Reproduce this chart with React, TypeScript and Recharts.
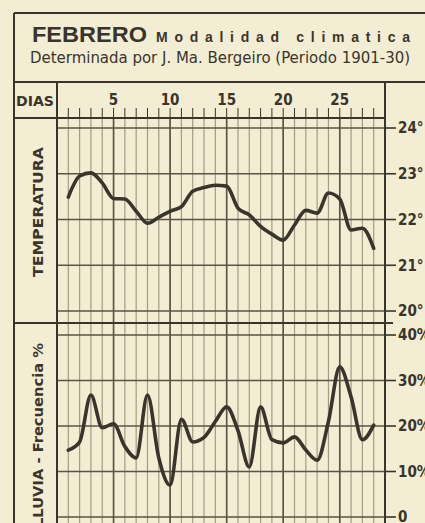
import React from 'react';
import { LineChart, Line, XAxis, YAxis, CartesianGrid, ReferenceLine } from 'recharts';

const days = [1, 2, 3, 4, 5, 6, 7, 8, 9, 10, 11, 12, 13, 14, 15, 16, 17, 18, 19, 20, 21, 22, 23, 24, 25, 26, 27, 28];
const temperatura = [22.49, 22.95, 23.02, 22.8, 22.46, 22.45, 22.18, 21.92, 22.05, 22.18, 22.28, 22.62, 22.7, 22.75, 22.73, 22.25, 22.1, 21.85, 21.68, 21.55, 21.88, 22.2, 22.14, 22.58, 22.45, 21.77, 21.81, 21.37];
const lluvia = [14.7, 16.5, 26.8, 19.6, 20.5, 15.5, 13, 26.8, 13, 7, 21.5, 16.5, 17.5, 21, 24.2, 19, 11, 24.2, 17, 16.3, 17.6, 14.7, 12.5, 21, 33, 26.4, 17, 20.2];
const tempTicks = [20, 21, 22, 23, 24];
const lluviaTicks = [0, 10, 20, 30, 40];
const majorDays = [5, 10, 15, 20, 25];

const tempData = days.map((d, i) => ({ dia: d, t: temperatura[i] }));
const lluviaData = days.map((d, i) => ({ dia: d, p: lluvia[i] }));

const bg = '#f3edd4';
const ink = '#39352c';
const minor = '#a39c84';
const major = '#5a5446';
const narrow = "'Liberation Sans Narrow', 'DejaVu Sans Condensed', sans-serif";
const tickStyle = { fill: ink, fontSize: 15, fontWeight: 700, fontFamily: narrow };

export default function App() {
  return (
    <div style={{ position: 'absolute', left: 0, top: 0, width: 425, height: 523, overflow: 'hidden', background: bg }}>
      <div style={{ position: 'absolute', left: 0, top: 83 }}>
        <LineChart width={425} height={240} data={tempData} margin={{ top: 0, right: 0, bottom: 0, left: 57 }}>
          <CartesianGrid stroke={minor} strokeWidth={1.2} horizontal={false} />
          <XAxis dataKey="dia" type="number" domain={[0, 29]} ticks={days} interval={0} orientation="top" height={35}
            tickSize={10} tickMargin={3} tickFormatter={(v) => (v % 5 === 0 ? String(v) : '')}
            axisLine={{ stroke: ink, strokeWidth: 2 }} tickLine={{ stroke: ink, strokeWidth: 1 }} tick={tickStyle} allowDataOverflow />
          <YAxis orientation="right" width={40} type="number" domain={[19.738, 24.219]} ticks={tempTicks} interval={0}
            tickFormatter={(v) => v + '°'} tickSize={11} tickMargin={2} allowDataOverflow
            axisLine={{ stroke: ink, strokeWidth: 2 }} tickLine={{ stroke: ink, strokeWidth: 1.6 }} tick={{ ...tickStyle, textAnchor: 'start' }} />
          {majorDays.map((d) => (
            <ReferenceLine key={'mx' + d} x={d} stroke={major} strokeWidth={1.6} />
          ))}
          {tempTicks.map((t) => (
            <ReferenceLine key={'ty' + t} y={t} stroke={major} strokeWidth={1.6} />
          ))}
          <Line dataKey="t" type="monotone" stroke={ink} strokeWidth={3.6} dot={false} isAnimationActive={false} strokeLinejoin="round" strokeLinecap="round" />
        </LineChart>
      </div>
      <div style={{ position: 'absolute', left: 0, top: 323 }}>
        <LineChart width={425} height={200} data={lluviaData} margin={{ top: 0, right: 0, bottom: 0, left: 57 }}>
          <CartesianGrid stroke={minor} strokeWidth={1.2} horizontal={false} />
          <XAxis dataKey="dia" type="number" domain={[0, 29]} ticks={days} interval={0} hide allowDataOverflow />
          <YAxis orientation="right" width={40} type="number" domain={[-1.32, 42.64]} ticks={lluviaTicks} interval={0}
            tickFormatter={(v) => (v === 0 ? '0' : v + '%')} tickSize={11} tickMargin={2} allowDataOverflow
            axisLine={{ stroke: ink, strokeWidth: 2 }} tickLine={{ stroke: ink, strokeWidth: 1.6 }} tick={{ ...tickStyle, textAnchor: 'start' }} />
          {majorDays.map((d) => (
            <ReferenceLine key={'mx' + d} x={d} stroke={major} strokeWidth={1.6} />
          ))}
          {lluviaTicks.map((t) => (
            <ReferenceLine key={'py' + t} y={t} stroke={major} strokeWidth={1.6} />
          ))}
          <Line dataKey="p" type="monotone" stroke={ink} strokeWidth={3.6} dot={false} isAnimationActive={false} strokeLinejoin="round" strokeLinecap="round" />
        </LineChart>
      </div>
      <svg width={425} height={523} style={{ position: 'absolute', left: 0, top: 0, pointerEvents: 'none' }}>
        <line x1={14} y1={13} x2={425} y2={13} stroke={ink} strokeWidth={2} />
        <line x1={14} y1={13} x2={14} y2={523} stroke={ink} strokeWidth={2} />
        <text x={32} y={42} fontSize={22} fontWeight={700} fontFamily="'Liberation Sans', Arial, sans-serif" fill={ink} textLength={115} lengthAdjust="spacingAndGlyphs">FEBRERO</text>
        <text x={156} y={42} fontSize={14} fontWeight={700} fontFamily="'Liberation Sans', Arial, sans-serif" fill={ink} textLength={254} lengthAdjust="spacing">Modalidad climatica</text>
        <text x={30} y={63} fontSize={15} fontFamily={narrow} fill={ink} textLength={380} lengthAdjust="spacingAndGlyphs">Determinada por J. Ma. Bergeiro (Periodo 1901-30)</text>
        <line x1={14} y1={82} x2={425} y2={82} stroke={ink} strokeWidth={2} />
        <line x1={57} y1={82} x2={57} y2={523} stroke={ink} strokeWidth={2} />
        <line x1={385} y1={82} x2={385} y2={523} stroke={ink} strokeWidth={2} />
        <line x1={14} y1={118} x2={57} y2={118} stroke={ink} strokeWidth={2} />
        <line x1={14} y1={323} x2={393} y2={323} stroke={ink} strokeWidth={2} />
        <text x={16} y={106} fontSize={14} fontWeight={700} fontFamily={narrow} fill={ink} textLength={38} lengthAdjust="spacingAndGlyphs">DIAS</text>
        <text transform="translate(43,212) rotate(-90)" textAnchor="middle" fontSize={14} fontWeight={700} fontFamily={narrow} fill={ink} textLength={130} lengthAdjust="spacingAndGlyphs">TEMPERATURA</text>
        <text transform="translate(43,527) rotate(-90)" fontSize={14} fontWeight={700} fontFamily={narrow} fill={ink} textLength={184} lengthAdjust="spacingAndGlyphs">LLUVIA - Frecuencia %</text>
      </svg>
    </div>
  );
}
